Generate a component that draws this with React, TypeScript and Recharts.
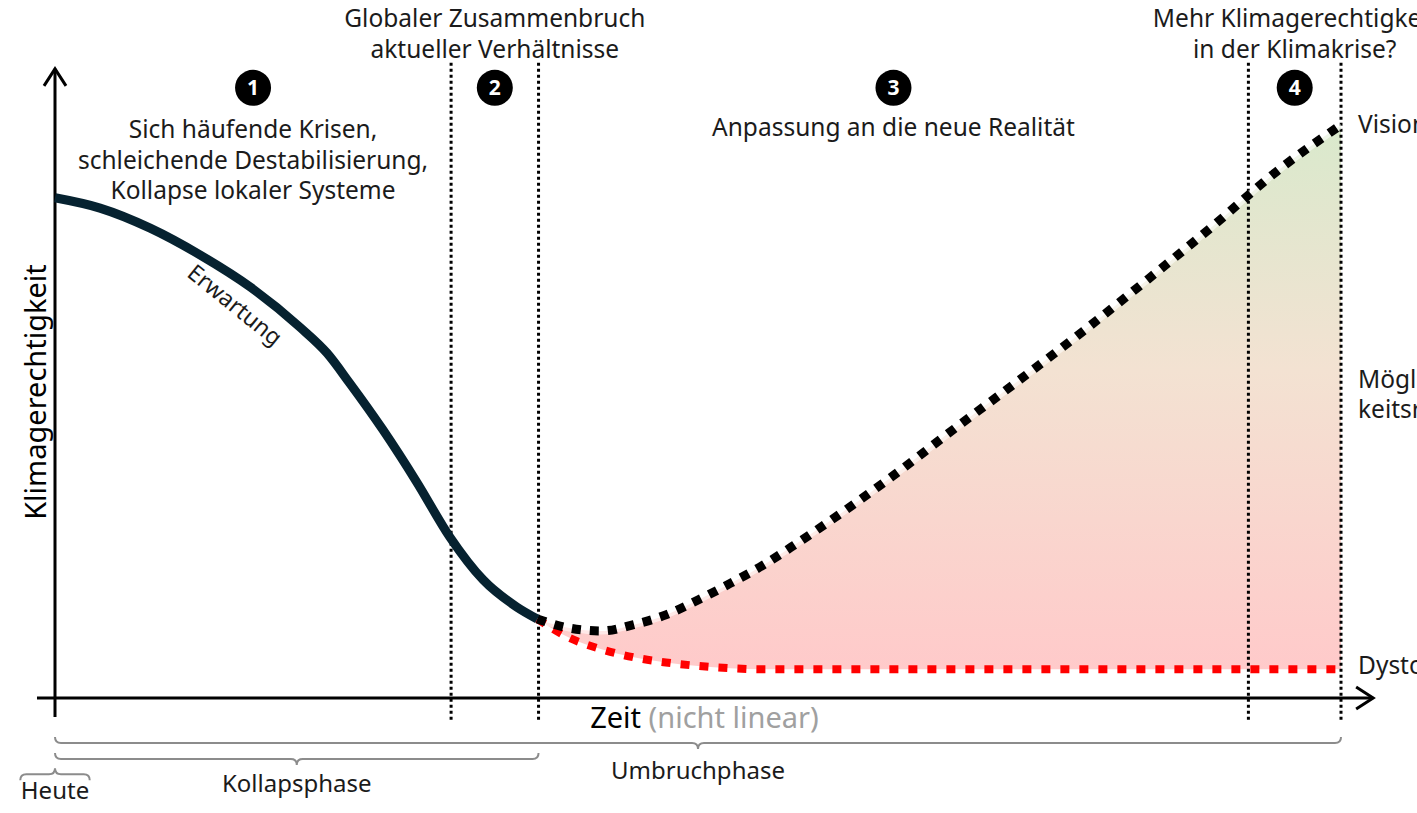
import React from "react";
import {
  ComposedChart,
  Line,
  Area,
  XAxis,
  YAxis,
  ReferenceLine,
  ReferenceDot,
} from "recharts";

const FONT = '"Noto Sans", "Open Sans", sans-serif';
const INK = "#1b1b1b";
const GRAU = "#8c8c8c";

// Zeitachse (nicht linear): 0 = Heute, 100 = Ende der Umbruchphase
// Klimagerechtigkeit: 0 = Achse, 100 = Vision
const erwartungX = [0, 3.5, 7.4, 11.3, 15.2, 19.05, 21.15, 22.9, 25.5, 28.15, 30.7, 33.3, 35.9, 37.5];
const erwartungY = [87.3, 85.5, 82.0, 77.3, 71.7, 64.7, 60.2, 55.0, 46.8, 37.6, 28.1, 20.6, 15.9, 13.8];

const umbruchX = [37.5, 40, 42.5, 45, 47.5, 50, 52.5, 55, 57.5, 60, 65, 70, 75, 80, 85, 90, 95, 100];
const visionY = [13.8, 12.2, 11.7, 12.8, 14.5, 17.1, 20.0, 23.1, 26.7, 30.5, 38.5, 47.1, 55.5, 64.1, 73.1, 82.3, 91.9, 100];
const dystopieY = [13.8, 10.5, 8.5, 7.1, 6.2, 5.6, 5.2, 5.0, 5.0, 5.0, 5.0, 5.0, 5.0, 5.0, 5.0, 5.0, 5.0, 5.0];

// Phasen 1-4
const phasenGrenzen = [30.8, 37.6, 92.8, 100];
const phasenMitte = [15.4, 34.2, 65.2, 96.4];
const phasenNummer = ["1", "2", "3", "4"];

const erwartungData = erwartungX.map((x, i) => ({ x, y: erwartungY[i] }));
const umbruchData = umbruchX.map((x, i) => ({
  x,
  vision: visionY[i],
  dystopie: dystopieY[i],
  raum: [dystopieY[i], visionY[i]],
}));

type TextOpts = {
  lines: string[];
  dx?: number;
  dy?: number;
  size?: number;
  anchor?: "start" | "middle" | "end";
  lh?: number;
  fill?: string;
  rotate?: number;
};

// Text an einem Datenpunkt verankert
const textShape = (o: TextOpts) => (p: any) => {
  const x = p.cx + (o.dx ?? 0);
  const y = p.cy + (o.dy ?? 0);
  return (
    <text
      x={x}
      y={y}
      textAnchor={o.anchor ?? "middle"}
      fontFamily={FONT}
      fontSize={o.size ?? 24.5}
      fill={o.fill ?? INK}
      transform={o.rotate ? `rotate(${o.rotate} ${x} ${y})` : undefined}
    >
      {o.lines.map((l, i) => (
        <tspan key={i} x={x} dy={i === 0 ? 0 : o.lh ?? 30.5}>
          {l}
        </tspan>
      ))}
    </text>
  );
};

const nummerShape = (n: string) => (p: any) => (
  <g>
    <circle cx={p.cx} cy={p.cy} r={18} fill="#000" />
    <text
      x={p.cx}
      y={p.cy + 7.5}
      textAnchor="middle"
      fontFamily={FONT}
      fontWeight={700}
      fontSize={21}
      fill="#fff"
    >
      {n}
    </text>
  </g>
);

const pfeilShape = (p: any) => {
  const { x1, y1, x2, y2 } = p;
  const len = Math.hypot(x2 - x1, y2 - y1);
  const ux = (x2 - x1) / len;
  const uy = (y2 - y1) / len;
  const nx = -uy;
  const ny = ux;
  const a = 17;
  const b = 11;
  return (
    <g>
      <line x1={x1} y1={y1} x2={x2} y2={y2} stroke="#000" strokeWidth={3} />
      <polyline
        points={`${x2 - a * ux + b * nx},${y2 - a * uy + b * ny} ${x2},${y2} ${x2 - a * ux - b * nx},${y2 - a * uy - b * ny}`}
        fill="none"
        stroke="#000"
        strokeWidth={3}
      />
    </g>
  );
};

// geschweifte Klammer unter der Zeitachse
const klammerShape = (label: string, offen: "oben" | "unten", labelDy: number) => (p: any) => {
  const { x1, x2, y1 } = p;
  const y = y1;
  const d = 6;
  const xm = (x1 + x2) / 2;
  const s = offen === "oben" ? -1 : 1;
  const path = `M${x1},${y + s * d} Q${x1},${y} ${x1 + d},${y} L${xm - d},${y} Q${xm},${y} ${xm},${y - s * d} Q${xm},${y} ${xm + d},${y} L${x2 - d},${y} Q${x2},${y} ${x2},${y + s * d}`;
  return (
    <g>
      <path d={path} fill="none" stroke={GRAU} strokeWidth={2} />
      <text x={xm} y={y + labelDy} textAnchor="middle" fontFamily={FONT} fontSize={24} fill={INK}>
        {label}
      </text>
    </g>
  );
};

const zeitShape = (p: any) => (
  <text x={p.cx} y={p.cy + 30} textAnchor="middle" fontFamily={FONT} fontSize={29} fill="#000">
    <tspan>Zeit</tspan>
    <tspan fill="#a0a0a0"> (nicht linear)</tspan>
  </text>
);

export default function App() {
  return (
    <div style={{ position: "absolute", left: 0, top: 0, background: "#fff" }}>
      <ComposedChart
        width={1417}
        height={813}
        margin={{ top: 125, right: 76, bottom: 115, left: 55 }}
      >
        <defs>
          <linearGradient id="raumFill" x1="0" y1="0" x2="0" y2="1">
            <stop offset="0%" stopColor="#d9e9cc" />
            <stop offset="45%" stopColor="#f3e2d2" />
            <stop offset="100%" stopColor="#ffcaca" />
          </linearGradient>
        </defs>
        <XAxis dataKey="x" type="number" domain={[0, 100]} hide />
        <YAxis type="number" domain={[0, 100]} hide />

        <Area
          data={umbruchData}
          dataKey="raum"
          type="monotone"
          stroke="none"
          fill="url(#raumFill)"
          fillOpacity={1}
          isAnimationActive={false}
        />

        {phasenGrenzen.map((g) => (
          <ReferenceLine
            key={g}
            segment={[{ x: g, y: -3.8 }, { x: g, y: 111 }]}
            ifOverflow="visible"
            stroke="#000"
            strokeWidth={3}
            strokeDasharray="3 3"
          />
        ))}

        {/* Achsen mit Pfeilspitzen */}
        <ReferenceLine segment={[{ x: 0, y: -3.3 }, { x: 0, y: 109.8 }]} ifOverflow="visible" shape={pfeilShape} />
        <ReferenceLine segment={[{ x: -1.4, y: 0 }, { x: 102.5, y: 0 }]} ifOverflow="visible" shape={pfeilShape} />

        <Line
          data={umbruchData}
          dataKey="vision"
          type="monotone"
          stroke="#ffffff"
          strokeOpacity={0.55}
          strokeWidth={7}
          dot={false}
          activeDot={false}
          isAnimationActive={false}
        />
        <Line
          data={umbruchData}
          dataKey="dystopie"
          type="monotone"
          stroke="#ff0000"
          strokeWidth={8}
          strokeDasharray="9 10"
          dot={false}
          activeDot={false}
          isAnimationActive={false}
        />
        <Line
          data={umbruchData}
          dataKey="vision"
          type="monotone"
          stroke="#000"
          strokeWidth={9}
          strokeDasharray="9 9"
          dot={false}
          activeDot={false}
          isAnimationActive={false}
        />
        <Line
          data={erwartungData}
          dataKey="y"
          type="monotone"
          stroke="#062230"
          strokeWidth={9}
          dot={false}
          activeDot={false}
          isAnimationActive={false}
        />

        {/* Klammern */}
        <ReferenceLine segment={[{ x: 0, y: -7.85 }, { x: 100, y: -7.85 }]} ifOverflow="visible" shape={klammerShape("Umbruchphase", "oben", 36)} />
        <ReferenceLine segment={[{ x: 0, y: -10.65 }, { x: 37.6, y: -10.65 }]} ifOverflow="visible" shape={klammerShape("Kollapsphase", "oben", 33)} />
        <ReferenceLine segment={[{ x: -2.7, y: -13.3 }, { x: 2.7, y: -13.3 }]} ifOverflow="visible" shape={klammerShape("Heute", "unten", 25)} />

        {/* Phasennummern */}
        {phasenMitte.map((m, i) => (
          <ReferenceDot key={i} x={m} y={106.5} r={18} ifOverflow="visible" shape={nummerShape(phasenNummer[i])} />
        ))}

        {/* Beschriftungen */}
        <ReferenceDot x={phasenMitte[0]} y={97.7} ifOverflow="visible" shape={textShape({ lines: ["Sich häufende Krisen,", "schleichende Destabilisierung,", "Kollapse lokaler Systeme"] })} />
        <ReferenceDot x={phasenMitte[1]} y={117.1} ifOverflow="visible" shape={textShape({ lines: ["Globaler Zusammenbruch", "aktueller Verhältnisse"], lh: 31 })} />
        <ReferenceDot x={phasenMitte[2]} y={98.1} ifOverflow="visible" shape={textShape({ lines: ["Anpassung an die neue Realität"] })} />
        <ReferenceDot x={phasenMitte[3]} y={117.1} ifOverflow="visible" shape={textShape({ lines: ["Mehr Klimagerechtigkeit", "in der Klimakrise?"], lh: 31 })} />

        <ReferenceDot x={100} y={100} ifOverflow="visible" shape={textShape({ lines: ["Vision"], anchor: "start", dx: 17, dy: 8 })} />
        <ReferenceDot x={100} y={54.1} ifOverflow="visible" shape={textShape({ lines: ["Möglich-", "keitsraum"], anchor: "start", dx: 17, lh: 30 })} />
        <ReferenceDot x={100} y={5} ifOverflow="visible" shape={textShape({ lines: ["Dystopie"], anchor: "start", dx: 17, dy: 5 })} />

        <ReferenceDot x={13.6} y={68.9} ifOverflow="visible" shape={textShape({ lines: ["Erwartung"], size: 23, rotate: 39, dy: 8 })} />
        <ReferenceDot x={50.5} y={0} ifOverflow="visible" shape={zeitShape} />
        <ReferenceDot x={-1.55} y={53.4} ifOverflow="visible" shape={textShape({ lines: ["Klimagerechtigkeit"], size: 29, rotate: -90, dx: 11, fill: "#000" })} />
      </ComposedChart>
    </div>
  );
}
